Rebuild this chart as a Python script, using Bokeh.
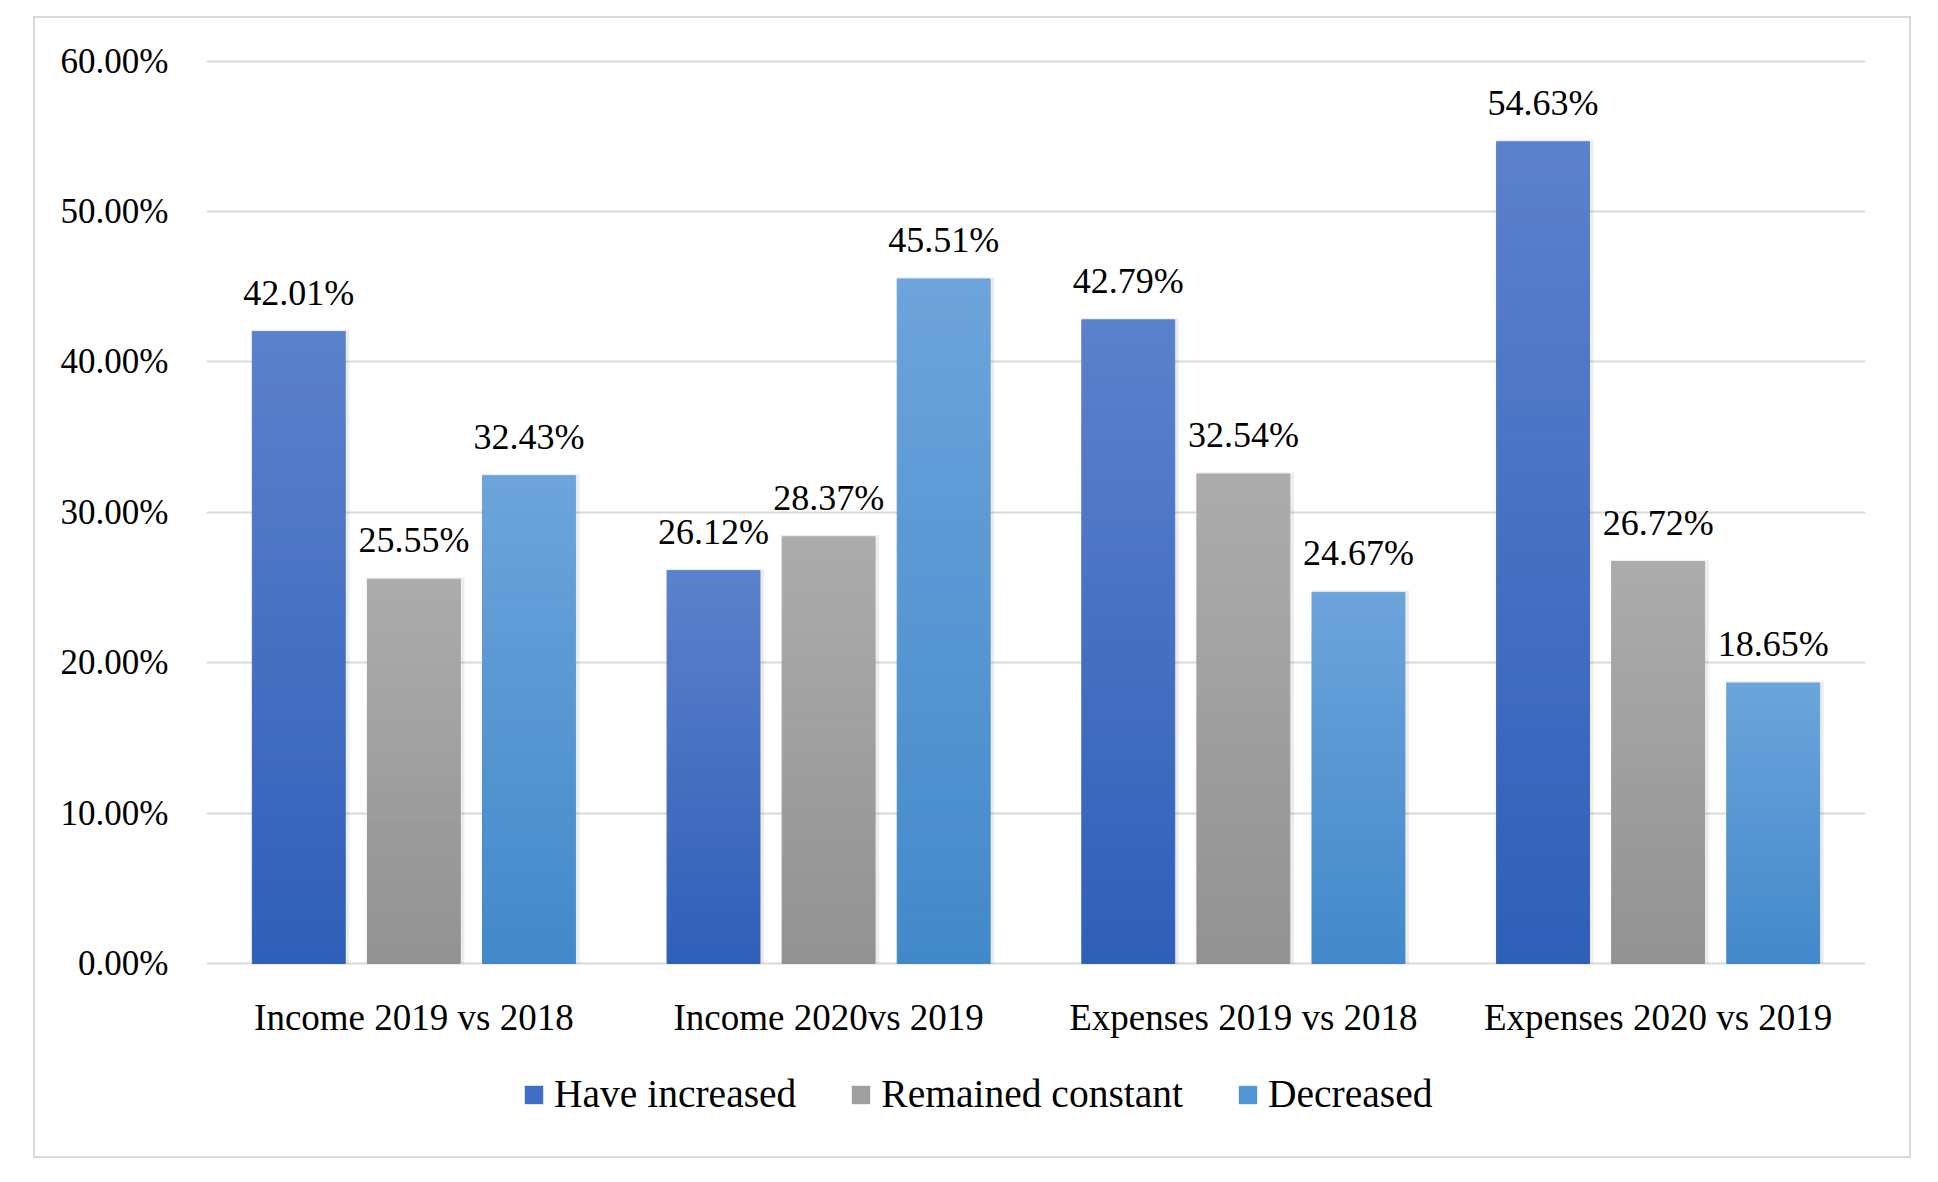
from bokeh.plotting import figure
from bokeh.layouts import column
from bokeh.models import (ColumnDataSource, FactorRange, Range1d, FixedTicker,
                          PrintfTickFormatter, Legend, LegendItem)
from bokeh.transform import dodge
from bokeh.core.properties import value
from bokeh.embed import file_html
from bokeh.resources import INLINE

# ---------------- data ----------------
categories = ["Income 2019 vs 2018", "Income 2020vs 2019",
              "Expenses 2019 vs 2018", "Expenses 2020 vs 2019"]
series_names = ["Have increased", "Remained constant", "Decreased"]
have_increased = [42.01, 26.12, 42.79, 54.63]
remained_constant = [25.55, 28.37, 32.54, 26.72]
decreased = [32.43, 45.51, 24.67, 18.65]
y_ticks = [0, 10, 20, 30, 40, 50, 60]

# ---------------- style ----------------
FONT = "Liberation Serif"
TEXT_COLOR = "#000000"
grad_top = [(92, 129, 204), (172, 172, 172), (108, 164, 219)]
grad_bot = [(47, 95, 185), (146, 146, 146), (66, 137, 203)]
legend_colors = ["#3f6cc4", "#a0a0a0", "#5497d4"]
BAR_W = 0.224
STEP = 0.2775
N_SLICES = 60
W = 1874


def mix(c1, c2, t):
    return "#%02x%02x%02x" % tuple(int(round(a + (b - a) * t)) for a, b in zip(c1, c2))


p = figure(x_range=FactorRange(factors=categories, range_padding=0),
           y_range=Range1d(-0.2, 60.3),
           width=W, height=1040,
           output_backend="svg", toolbar_location=None,
           min_border_left=171, min_border_right=44,
           min_border_top=38, min_border_bottom=92)
p.outline_line_color = None
p.background_fill_color = "white"
p.border_fill_color = "white"

series_values = [have_increased, remained_constant, decreased]
for j, vals in enumerate(series_values):
    off = (j - 1) * STEP
    xs, bs, ts, cs = [], [], [], []
    for cat, v in zip(categories, vals):
        for k in range(N_SLICES):
            xs.append(cat)
            bs.append(v * k / N_SLICES)
            ts.append(v * (k + 1) / N_SLICES)
            cs.append(mix(grad_bot[j], grad_top[j], (k + 0.5) / N_SLICES))
    # soft shadow
    sh = ColumnDataSource(dict(x=list(categories), top=[v + 0.12 for v in vals]))
    p.vbar(x=dodge("x", off + 0.004, range=p.x_range), top="top", bottom=0,
           width=BAR_W + 0.012, source=sh, fill_color="black", fill_alpha=0.07,
           line_color=None)
    src = ColumnDataSource(dict(x=xs, b=bs, t=ts, c=cs))
    p.vbar(x=dodge("x", off, range=p.x_range), bottom="b", top="t", width=BAR_W,
           source=src, fill_color="c", line_color="c", line_width=1)
    # data labels
    lab = ColumnDataSource(dict(x=list(categories), y=list(vals),
                                t=["%.2f%%" % v for v in vals]))
    p.text(x=dodge("x", off, range=p.x_range), y="y", text="t", source=lab,
           text_align="center", text_baseline="middle", y_offset=-39,
           text_font=value(FONT), text_font_size="36px", text_color=TEXT_COLOR)

# axes
p.yaxis.ticker = FixedTicker(ticks=y_ticks)
p.yaxis.formatter = PrintfTickFormatter(format="%.2f%%")
p.yaxis.major_label_text_font = FONT
p.yaxis.major_label_text_font_size = "35px"
p.yaxis.major_label_text_color = TEXT_COLOR
p.yaxis.major_label_standoff = 38
for ax in (p.xaxis, p.yaxis):
    ax.axis_line_color = None
    ax.major_tick_line_color = None
    ax.minor_tick_line_color = None
    ax.major_tick_out = 0
    ax.major_tick_in = 0
p.xaxis.major_label_text_font = FONT
p.xaxis.major_label_text_font_size = "37px"
p.xaxis.major_label_text_color = TEXT_COLOR
p.xaxis.major_label_standoff = 30

p.xgrid.grid_line_color = None
p.ygrid.grid_line_color = "#d9d9d9"
p.ygrid.grid_line_width = 2

# ---------------- legend strip ----------------
p2 = figure(width=W, height=98, x_range=Range1d(0, 1), y_range=Range1d(0, 1),
            output_backend="svg", toolbar_location=None,
            x_axis_location=None, y_axis_location=None,
            min_border=0, min_border_left=0, min_border_right=0,
            min_border_top=0, min_border_bottom=0)
p2.outline_line_color = None
p2.grid.visible = False
p2.background_fill_color = "white"
p2.border_fill_color = "white"
items = []
for j, name in enumerate(series_names):
    # zero-height proxy bar: invisible in the strip, only feeds the legend swatch
    r = p2.vbar(x=[0.5], top=[0], bottom=[0], width=0.01,
                fill_color=legend_colors[j], line_color=None)
    items.append(LegendItem(label=name, renderers=[r]))
legend = Legend(items=items, orientation="horizontal", location=(316, 39),
                spacing=53, label_standoff=9, glyph_width=23, glyph_height=23,
                label_text_font=FONT, label_text_font_size="39.5px",
                label_text_color=TEXT_COLOR, border_line_color=None,
                background_fill_alpha=0, padding=4, margin=0)
p2.add_layout(legend, "center")

layout = column(p, p2, spacing=0, margin=(16, 0, 0, 33),
                styles={"border": "2px solid #d9d9d9", "background": "white"})

open("out.html", "w").write(file_html(layout, INLINE))
